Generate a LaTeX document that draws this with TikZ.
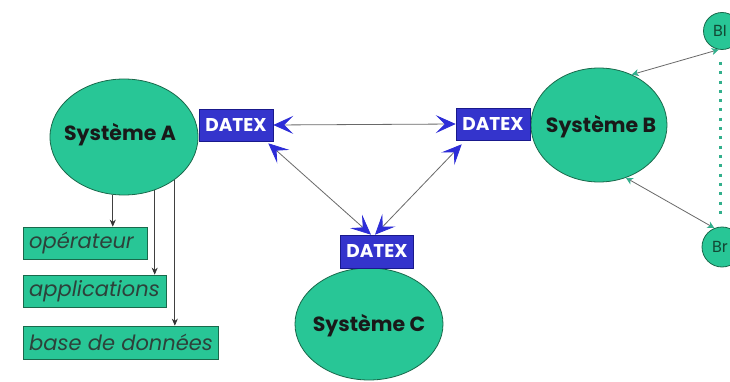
\documentclass[tikz,border=0pt]{standalone}
\usepackage{fontspec}
\setmainfont{Poppins}
\usetikzlibrary{shapes.geometric,arrows.meta}
\definecolor{tealfill}{RGB}{40,198,150}
\definecolor{tealdark}{RGB}{25,105,75}
\definecolor{datexblue}{RGB}{52,52,204}
\definecolor{datexdark}{RGB}{25,25,140}
\definecolor{tipblue}{RGB}{45,45,215}
\definecolor{linegray}{RGB}{105,105,105}
\definecolor{dotteal}{RGB}{50,175,140}
\definecolor{labeltext}{RGB}{45,65,58}
\tikzset{
  sysnode/.style={ellipse, draw=tealdark, fill=tealfill, line width=0.8pt, inner sep=0pt},
  systext/.style={font=\bfseries\fontsize{20.5}{24}\selectfont, text=black!90},
  datexbox/.style={rectangle, draw=datexdark, fill=datexblue, line width=0.6pt, inner sep=0pt,
    font=\bfseries\fontsize{18.5}{20}\selectfont, text=white},
  smallsys/.style={circle, draw=tealdark, fill=tealfill, line width=0.8pt, inner sep=0pt,
    font=\fontsize{16}{18}\selectfont, text=tealdark!70!black},
  labelbox/.style={rectangle, draw=tealdark, fill=tealfill, line width=0.7pt, inner sep=0pt},
  labeltxt/.style={font=\itshape\fontsize{21}{23}\selectfont, text=labeltext, inner sep=0pt, anchor=west},
  datexlink/.style={draw=linegray, line width=0.8pt,
    {Stealth[length=20pt,width=18pt,inset=9pt,color=tipblue]}-{Stealth[length=20pt,width=18pt,inset=9pt,color=tipblue]}},
  sublink/.style={draw=linegray, line width=0.8pt,
    {Stealth[length=7pt,width=7pt,inset=2pt,color=dotteal]}-{Stealth[length=7pt,width=7pt,inset=2pt,color=dotteal]}},
  downlink/.style={draw=black!75, line width=0.7pt, -{Stealth[length=7pt,width=6pt,color=black!80]}},
}
\begin{document}
\begin{tikzpicture}[x=1pt,y=-1pt]
\useasboundingbox (0,0) rectangle (730,382);
\clip (0,0) rectangle (730,382);
\fill[white] (0,0) rectangle (730,382);

% main systems
\node[sysnode, minimum width=148pt, minimum height=116pt] (A) at (124,137) {};
\node[systext] (Atxt) at (120,135) {Système A};
\node[sysnode, minimum width=136pt, minimum height=114pt] (B) at (599,125) {};
\node[systext] (Btxt) at (601,127) {Système B};
\node[sysnode, minimum width=148pt, minimum height=112pt] (C) at (369,324) {};
\node[systext] (Ctxt) at (369,326) {Système C};

% DATEX boxes
\node[datexbox, minimum width=74pt, minimum height=32pt] (dA) at (236,125) {DATEX};
\node[datexbox, minimum width=74pt, minimum height=32pt] (dB) at (493,124) {DATEX};
\node[datexbox, minimum width=73pt, minimum height=33pt] (dC) at (377,251.5) {DATEX};

% small remote systems
\node[smallsys, minimum size=37pt] (BI) at (722,31) {\hspace*{-4pt}BI};
\node[smallsys, minimum size=40pt] (Br) at (722,247) {\hspace*{-4pt}Br};

% dotted link
\coordinate (dtop) at (720,62);
\coordinate (dbot) at (720,216);
\draw[dotteal, line width=3pt, dash pattern=on 3pt off 6.3pt] (dtop) -- (dbot);

% label boxes
\node[labelbox, minimum width=124pt, minimum height=32pt] (op) at (85,243) {};
\node[labeltxt] (optxt) at (29,243) {opérateur};
\node[labelbox, minimum width=143pt, minimum height=32pt] (app) at (94.5,291) {};
\node[labeltxt] (apptxt) at (29,291) {applications};
\node[labelbox, minimum width=195pt, minimum height=33pt] (bdd) at (120.5,342.5) {};
\node[labeltxt] (bddtxt) at (29,342.5) {base de données};

% DATEX links
\draw[datexlink] (dA.east) -- (dB.west);
\draw[datexlink] ([xshift=-5pt,yshift=-2pt]dA.south east) -- ([xshift=-6pt]dC.north);
\draw[datexlink] ([xshift=6pt,yshift=-4pt]dB.south west) -- ([xshift=-2pt]dC.north);

% remote links
\draw[sublink] (B.57) -- (BI.260);
\draw[sublink] (B.-63) -- (Br.112);

% links to local components
\draw[downlink] (A.-101) -- (A.-101 |- op.north);
\draw[downlink] (A.-60.5) -- (A.-60.5 |- app.north);
\draw[downlink] (A.-40.6) -- (A.-40.6 |- bdd.north);
\end{tikzpicture}
\end{document}
